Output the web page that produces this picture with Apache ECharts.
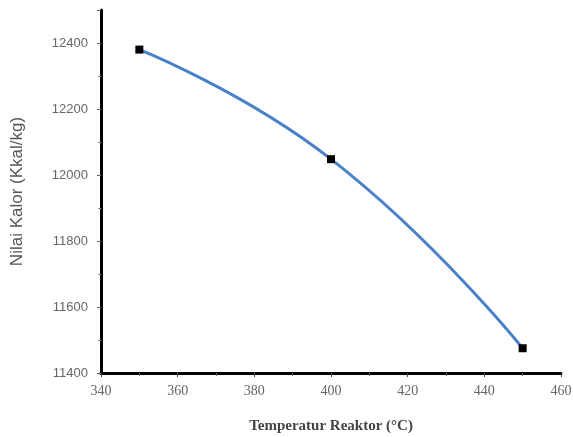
<!DOCTYPE html>
<html><head><meta charset="utf-8">
<script src="https://cdn.jsdelivr.net/npm/echarts@6/dist/echarts.min.js"></script>
<style>html,body{margin:0;padding:0;background:#fff}#c{width:573px;height:437px}</style>
</head><body><div id="c"></div>
<script>
const temperatures = [350, 400, 450];
const calorValues = [12380, 12048, 11475];
const xTickLabels = [340, 360, 380, 400, 420, 440, 460];
const yTickLabels = [11400, 11600, 11800, 12000, 12200, 12400];

const chart = echarts.init(document.getElementById('c'), null, {renderer: 'canvas'});
chart.setOption({
  animation: false,
  backgroundColor: '#fff',
  grid: {left: 101, right: 12, top: 10, bottom: 64, containLabel: false, outerBoundsMode: 'none'},
  xAxis: {
    type: 'value', min: 340, max: 460, interval: 20,
    name: 'Temperatur Reaktor (\u00B0C)', nameLocation: 'middle', nameGap: 46,
    nameTextStyle: {fontFamily: 'Liberation Serif', fontWeight: 'bold', fontSize: 15, color: '#444'},
    axisLine: {lineStyle: {color: '#000', width: 3}},
    axisTick: {show: true, inside: false, length: 4, lineStyle: {color: '#444', width: 1}},
    minorTick: {show: true, splitNumber: 2, length: 3, lineStyle: {color: '#666'}},
    splitLine: {show: false},
    axisLabel: {fontFamily: 'Liberation Serif', fontSize: 14, color: '#666', margin: 11,
      formatter: v => xTickLabels.includes(v) ? String(v) : ''}
  },
  yAxis: {
    type: 'value', min: 11400, max: 12500, interval: 200,
    name: 'Nilai Kalor (Kkal/kg)', nameLocation: 'middle', nameGap: 75,
    nameTextStyle: {fontFamily: 'Liberation Sans', fontSize: 17, color: '#555'},
    axisLine: {show: true, lineStyle: {color: '#000', width: 3}},
    axisTick: {show: true, inside: false, length: 4, lineStyle: {color: '#666', width: 1}},
    minorTick: {show: true, splitNumber: 2, length: 3, lineStyle: {color: '#888'}},
    splitLine: {show: false},
    axisLabel: {fontFamily: 'Liberation Sans', fontSize: 13, color: '#666', margin: 13,
      formatter: v => yTickLabels.includes(v) ? String(v) : ''}
  },
  series: [{
    type: 'line',
    data: temperatures.map((t, i) => [t, calorValues[i]]),
    smooth: 0.5,
    symbol: 'rect', symbolSize: 8,
    itemStyle: {color: '#000'},
    lineStyle: {color: '#4a80c8', width: 3}
  }]
});
</script></body></html>
